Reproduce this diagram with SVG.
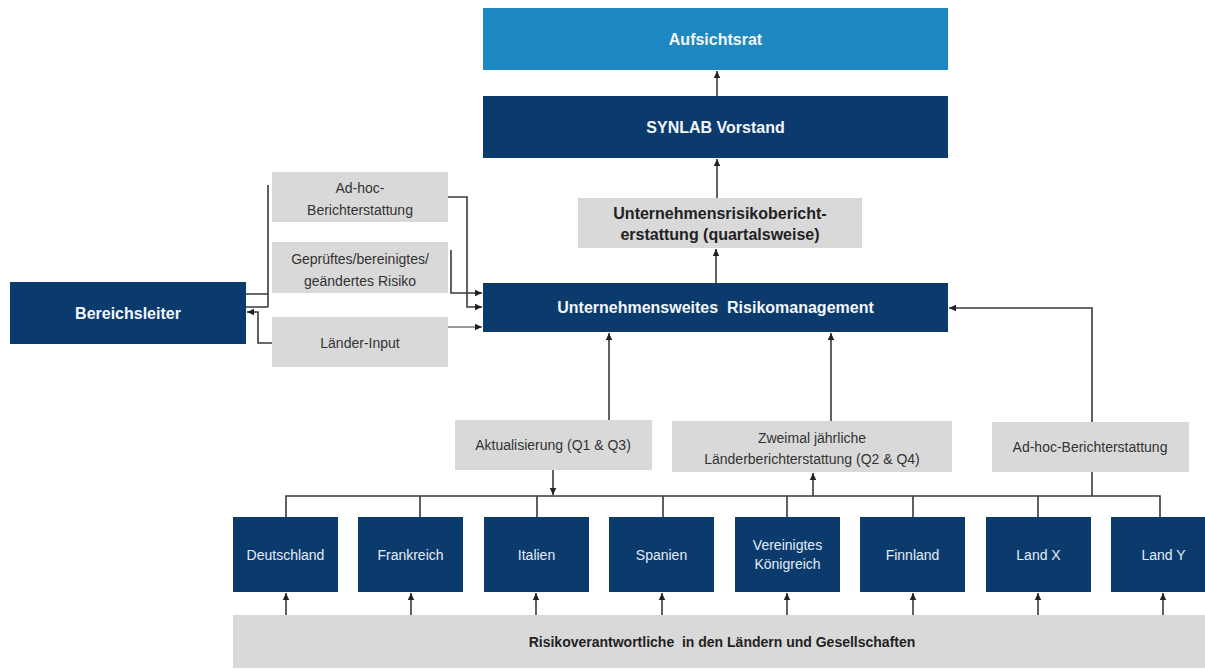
<svg xmlns="http://www.w3.org/2000/svg" width="1205" height="670" viewBox="0 0 1205 670">
<defs>
<style>
.navy{fill:#0b3b6d}
.sky{fill:#1c87c0}
.gray{fill:#d9d9d9}
.tb{font-family:"Liberation Sans",Arial,sans-serif;font-weight:bold;font-size:16px;fill:#f2f6fb;text-anchor:middle}
.tbd{font-family:"Liberation Sans",Arial,sans-serif;font-weight:bold;font-size:16px;fill:#222;text-anchor:middle}
.tg{font-family:"Liberation Sans",Arial,sans-serif;font-size:14px;fill:#333;text-anchor:middle}
.tc{font-family:"Liberation Sans",Arial,sans-serif;font-size:14px;fill:#e4ecf5;text-anchor:middle}
.ln{fill:none;stroke:#3a3a3a;stroke-width:1.6}
.lnl{fill:none;stroke:#777;stroke-width:1.3}
</style>
<marker id="ah" markerUnits="userSpaceOnUse" markerWidth="8" markerHeight="8" refX="7" refY="4" orient="auto">
<path d="M0,0.8 L7,4 L0,7.2 z" fill="#222"/>
</marker>
</defs>
<rect width="1205" height="670" fill="#ffffff"/>

<g id="connectors">
<path class="ln" d="M717,96 V71" marker-end="url(#ah)"/>
<path class="ln" d="M717,198 V159" marker-end="url(#ah)"/>
<path class="ln" d="M716,283 V249" marker-end="url(#ah)"/>
<path class="ln" d="M246,294 H268 M246,307 H268 M268,185 V307"/>
<path class="ln" d="M272,343 H258 V312 H247" marker-end="url(#ah)"/>
<path class="ln" d="M448,197 H467 V307 H482" marker-end="url(#ah)"/>
<path class="ln" d="M451,250 V293 H482" marker-end="url(#ah)"/>
<path class="lnl" d="M448,327 H482" marker-end="url(#ah)"/>
<path class="ln" d="M609,420 V333" marker-end="url(#ah)"/>
<path class="ln" d="M831,421 V333" marker-end="url(#ah)"/>
<path class="ln" d="M1092,422 V308 H949" marker-end="url(#ah)"/>
<path class="ln" d="M1092,472 V496"/>
<path class="ln" d="M553,470 V495" marker-end="url(#ah)"/>
<path class="ln" d="M813,496 V473" marker-end="url(#ah)"/>
<path class="ln" d="M286,517 V496 H1160 V517 M420,496 V517 M537,496 V517 M663,496 V517 M787,496 V517 M913,496 V517 M1038,496 V517"/>
<path class="ln" d="M286,615 V593" marker-end="url(#ah)"/>
<path class="ln" d="M411,615 V593" marker-end="url(#ah)"/>
<path class="ln" d="M536,615 V593" marker-end="url(#ah)"/>
<path class="ln" d="M662,615 V593" marker-end="url(#ah)"/>
<path class="ln" d="M787,615 V593" marker-end="url(#ah)"/>
<path class="ln" d="M913,615 V593" marker-end="url(#ah)"/>
<path class="ln" d="M1038,615 V593" marker-end="url(#ah)"/>
<path class="ln" d="M1163,615 V593" marker-end="url(#ah)"/>
</g>

<g id="aufsichtsrat"><rect class="sky" x="483" y="8" width="465" height="62"/><text class="tb" x="715.5" y="45">Aufsichtsrat</text></g>
<g id="vorstand"><rect class="navy" x="483" y="96" width="465" height="62"/><text class="tb" x="715.5" y="133">SYNLAB Vorstand</text></g>
<g id="risikobericht"><rect class="gray" x="578" y="198" width="284" height="50"/><text class="tbd" x="720" y="219">Unternehmensrisikobericht-</text><text class="tbd" x="720" y="240">erstattung (quartalsweise)</text></g>
<g id="erm"><rect class="navy" x="483" y="283" width="465" height="49"/><text class="tb" x="715.5" y="313" xml:space="preserve">Unternehmensweites  Risikomanagement</text></g>
<g id="bereichsleiter"><rect class="navy" x="10" y="282" width="236" height="62"/><text class="tb" x="128" y="319">Bereichsleiter</text></g>
<g id="adhoc-links"><rect class="gray" x="272" y="172" width="176" height="50"/><text class="tg" x="360" y="193">Ad-hoc-</text><text class="tg" x="360" y="215">Berichterstattung</text></g>
<g id="geprueft"><rect class="gray" x="272" y="242" width="176" height="51"/><text class="tg" x="360" y="264">Geprüftes/bereinigtes/</text><text class="tg" x="360" y="286">geändertes Risiko</text></g>
<g id="laender-input"><rect class="gray" x="272" y="317" width="176" height="50"/><text class="tg" x="360" y="348">Länder-Input</text></g>
<g id="aktualisierung"><rect class="gray" x="455" y="420" width="197" height="50"/><text class="tg" x="553" y="450">Aktualisierung (Q1 &amp; Q3)</text></g>
<g id="zweimal"><rect class="gray" x="672" y="421" width="280" height="51"/><text class="tg" x="812" y="443">Zweimal jährliche</text><text class="tg" x="812" y="464">Länderberichterstattung (Q2 &amp; Q4)</text></g>
<g id="adhoc-rechts"><rect class="gray" x="992" y="422" width="197" height="50"/><text class="tg" x="1090" y="452">Ad-hoc-Berichterstattung</text></g>

<g id="deutschland"><rect class="navy" x="233" y="517" width="105" height="75"/><text class="tc" x="285.5" y="560">Deutschland</text></g>
<g id="frankreich"><rect class="navy" x="358" y="517" width="105" height="75"/><text class="tc" x="410.5" y="560">Frankreich</text></g>
<g id="italien"><rect class="navy" x="484" y="517" width="105" height="75"/><text class="tc" x="536.5" y="560">Italien</text></g>
<g id="spanien"><rect class="navy" x="609" y="517" width="105" height="75"/><text class="tc" x="661.5" y="560">Spanien</text></g>
<g id="vk"><rect class="navy" x="735" y="517" width="105" height="75"/><text class="tc" x="787.5" y="550">Vereinigtes</text><text class="tc" x="787.5" y="569">Königreich</text></g>
<g id="finnland"><rect class="navy" x="860" y="517" width="105" height="75"/><text class="tc" x="912.5" y="560">Finnland</text></g>
<g id="landx"><rect class="navy" x="986" y="517" width="105" height="75"/><text class="tc" x="1038.5" y="560">Land X</text></g>
<g id="landy"><rect class="navy" x="1111" y="517" width="105" height="75"/><text class="tc" x="1163.5" y="560">Land Y</text></g>

<g id="risikoverantwortliche"><rect class="gray" x="233" y="615" width="980" height="53"/><text class="tbd" x="722" y="647" style="font-size:14px" xml:space="preserve">Risikoverantwortliche  in den Ländern und Gesellschaften</text></g>
</svg>
